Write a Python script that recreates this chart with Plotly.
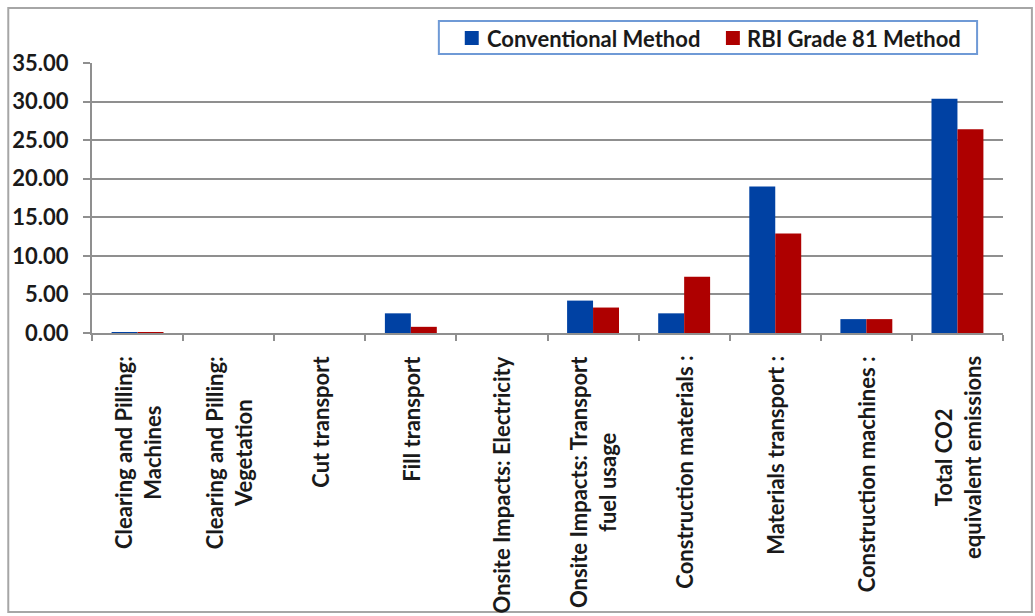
import plotly.graph_objects as go

# Emission categories and CO2-equivalent values for the two methods
categories = [
    "Clearing and Pilling:<br>Machines",
    "Clearing and Pilling:<br>Vegetation",
    "Cut transport",
    "Fill transport",
    "Onsite Impacts: Electricity",
    "Onsite Impacts: Transport<br>fuel usage",
    "Construction materials :",
    "Materials transport :",
    "Construction machines :",
    "Total CO2<br>equivalent emissions",
]
conventional = [0.06, 0.0, 0.0, 2.55, 0.0, 4.2, 2.55, 19.0, 1.8, 30.35]
rbi_grade_81 = [0.05, 0.0, 0.0, 0.8, 0.0, 3.3, 7.3, 12.9, 1.8, 26.4]
series_names = ["Conventional Method", "RBI Grade 81 Method"]
series_colors = ["#0041A3", "#AE0000"]
y_ticks = [0, 5, 10, 15, 20, 25, 30, 35]

W, H = 1035, 616
L, R, T, B = 89, 32, 63, 283
PW, PH = W - L - R, H - T - B
FONT = "Lato"
TXT = "#1a1a1a"
GRID = "#8f8f8f"


def px_x(x):
    return (x - L) / PW


def px_y(y):
    return (H - B - y) / PH


fig = go.Figure()
for name, vals, col in zip(series_names, [conventional, rbi_grade_81], series_colors):
    fig.add_trace(go.Bar(x=categories, y=vals, name=name, marker=dict(color=col, line=dict(width=0)),
                         showlegend=False))

fig.update_layout(
    width=W, height=H,
    margin=dict(l=L, r=R, t=T, b=B, pad=0),
    paper_bgcolor="white", plot_bgcolor="white",
    barmode="group", bargap=0.43, bargroupgap=0.0,
    font=dict(family=FONT, color=TXT),
    xaxis=dict(
        type="category", showticklabels=False, showgrid=False,
        showline=True, linecolor=GRID, linewidth=2,
        ticks="outside", tickson="boundaries", ticklen=6, tickwidth=2, tickcolor=GRID,
    ),
    yaxis=dict(
        range=[0, 35], tickvals=y_ticks, tickformat=".2f",
        showgrid=True, gridcolor=GRID, gridwidth=2,
        showline=True, linecolor=GRID, linewidth=2,
        ticks="outside", ticklen=7, tickwidth=2, tickcolor=GRID,
        ticklabelstandoff=10,
        tickfont=dict(family=FONT, size=22, color=TXT, weight="bold"),
        zeroline=False,
    ),
)

# Rotated category labels below the axis
for cat in categories:
    fig.add_annotation(
        x=cat, xref="x", y=px_y(354), yref="paper",
        text=cat, textangle=-90, showarrow=False,
        xanchor="center", yanchor="top", align="center",
        font=dict(family=FONT, size=22, color=TXT, weight="bold"),
    )

# Chart-area border
fig.add_shape(type="rect", xref="paper", yref="paper",
              x0=px_x(5), x1=px_x(1032), y0=px_y(612), y1=px_y(8),
              line=dict(color="#a6a6a6", width=2), fillcolor="rgba(0,0,0,0)", layer="below")

# Legend box with swatches and labels
fig.add_shape(type="rect", xref="paper", yref="paper",
              x0=px_x(437), x1=px_x(977), y0=px_y(54), y1=px_y(21),
              line=dict(color="#6f9ad6", width=2), fillcolor="white")
swatch_x = [463, 725]
label_x = [483, 744]
for sx, lx, name, col in zip(swatch_x, label_x, series_names, series_colors):
    fig.add_shape(type="rect", xref="paper", yref="paper",
                  x0=px_x(sx), x1=px_x(sx + 14), y0=px_y(45), y1=px_y(31),
                  line=dict(width=0), fillcolor=col)
    fig.add_annotation(x=px_x(lx), xref="paper", y=px_y(38), yref="paper",
                       text=name, showarrow=False, xanchor="left", yanchor="middle",
                       font=dict(family=FONT, size=22, color=TXT, weight="bold"))

fig.write_html("out.html")
